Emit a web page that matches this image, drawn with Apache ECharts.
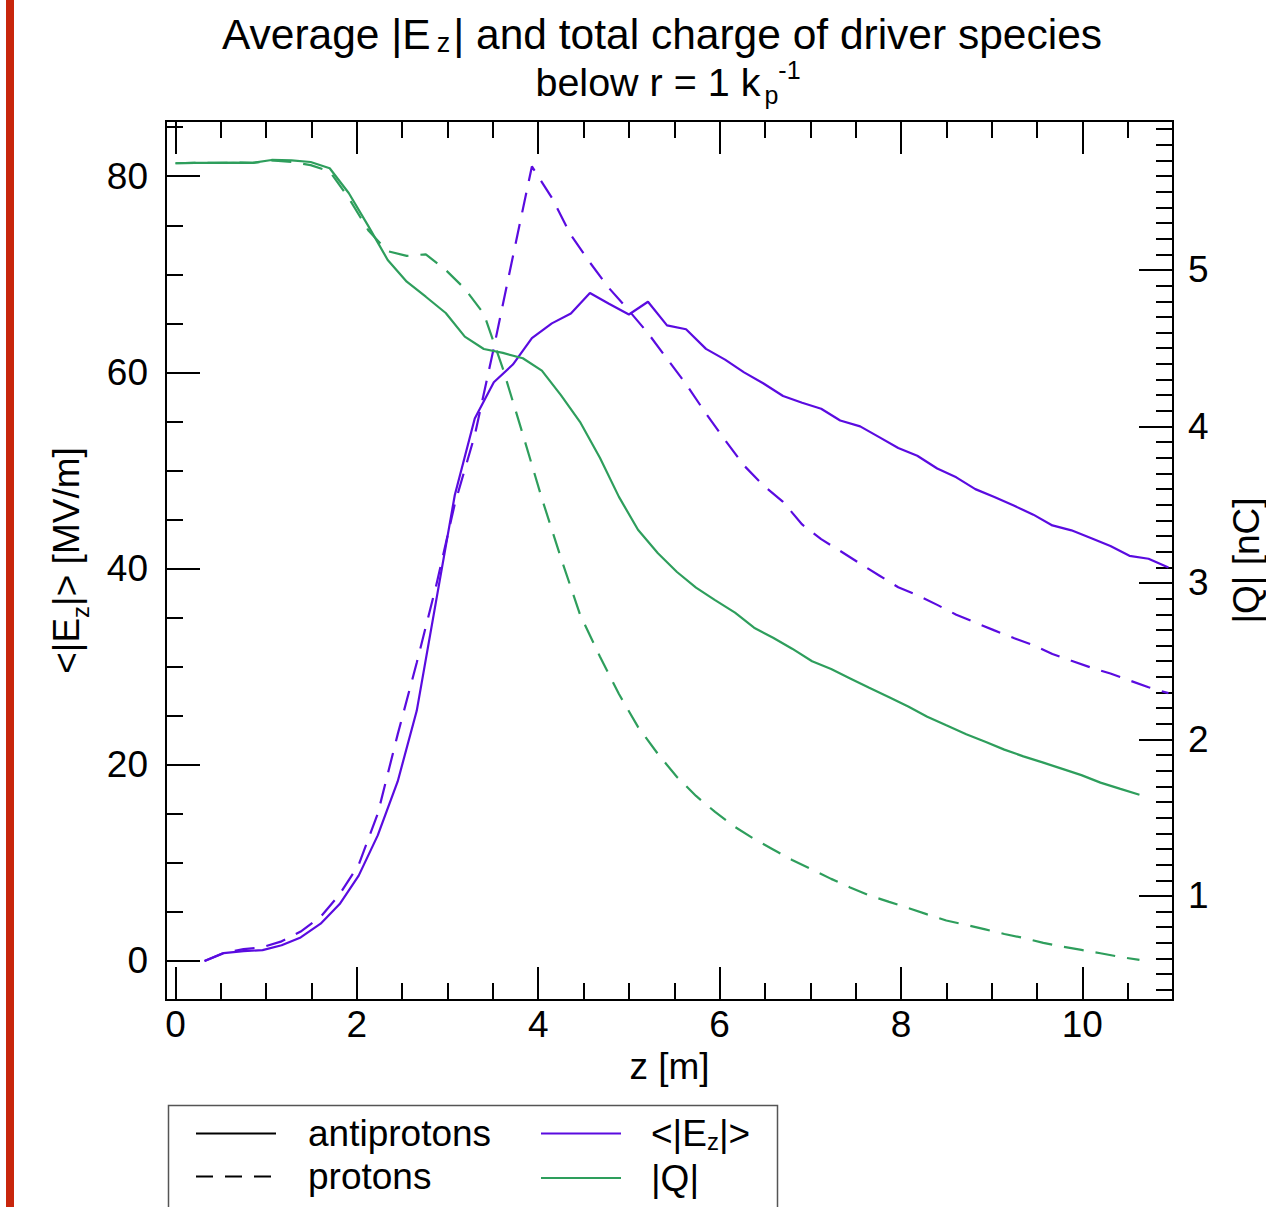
<!DOCTYPE html>
<html><head><meta charset="utf-8">
<script src="https://cdn.jsdelivr.net/npm/echarts@6/dist/echarts.min.js"></script>
<style>html,body{margin:0;padding:0;background:#fff}#c{width:1266px;height:1207px}</style>
</head><body><div id="c"></div>
<script>
// ---- data ----
const zE = [0.32,0.53,0.75,0.96,1.17,1.38,1.60,1.81,2.02,2.23,2.45,2.66,2.87,3.08,3.30,3.51,3.72,3.93,4.15,4.36,4.57,4.78,5.00,5.21,5.42,5.63,5.85,6.06,6.27,6.48,6.70,6.91,7.12,7.33,7.55,7.76,7.97,8.18,8.40,8.61,8.82,9.03,9.25,9.46,9.67,9.88,10.10,10.31,10.52,10.73,10.95];
const E_antiprotons = [0.0,0.8,1.0,1.1,1.6,2.4,3.8,5.8,8.7,12.8,18.3,25.5,36.5,47.5,55.3,59.0,60.8,63.5,65.0,66.0,68.1,67.0,65.9,67.2,64.8,64.4,62.4,61.3,60.0,58.9,57.6,56.9,56.3,55.1,54.5,53.4,52.3,51.5,50.2,49.3,48.1,47.3,46.4,45.5,44.4,43.9,43.1,42.3,41.3,41.0,40.1];
const E_protons = [0.0,0.8,1.2,1.4,2.0,3.0,4.5,6.8,9.8,15.0,23.1,30.4,38.1,46.6,53.6,62.5,71.8,81.0,77.8,74.0,71.2,68.6,66.3,64.0,61.4,58.8,55.8,53.1,50.5,48.5,46.8,44.5,43.0,41.8,40.5,39.3,38.1,37.3,36.3,35.3,34.5,33.7,32.9,32.2,31.3,30.6,29.9,29.3,28.6,27.9,27.3];
const zQ = [0.00,0.21,0.43,0.64,0.85,1.06,1.28,1.49,1.70,1.91,2.13,2.34,2.55,2.76,2.98,3.19,3.40,3.61,3.83,4.04,4.25,4.46,4.68,4.89,5.10,5.32,5.53,5.74,5.95,6.17,6.38,6.59,6.80,7.02,7.23,7.44,7.65,7.87,8.08,8.29,8.50,8.72,8.93,9.14,9.35,9.57,9.78,9.99,10.20,10.42,10.63];
const Q_antiprotons = [5.682,5.684,5.684,5.686,5.684,5.703,5.700,5.690,5.650,5.492,5.277,5.064,4.925,4.829,4.725,4.574,4.495,4.470,4.436,4.357,4.200,4.030,3.800,3.550,3.340,3.190,3.070,2.970,2.890,2.810,2.714,2.650,2.580,2.500,2.450,2.390,2.330,2.270,2.210,2.145,2.090,2.033,1.985,1.935,1.892,1.852,1.812,1.772,1.724,1.684,1.647];
const Q_protons = [5.682,5.684,5.684,5.686,5.684,5.700,5.690,5.670,5.630,5.460,5.250,5.120,5.090,5.100,5.000,4.880,4.720,4.370,3.950,3.540,3.160,2.800,2.530,2.290,2.080,1.907,1.760,1.639,1.537,1.441,1.364,1.297,1.230,1.169,1.109,1.054,1.003,0.962,0.923,0.882,0.843,0.815,0.786,0.757,0.732,0.700,0.676,0.655,0.634,0.610,0.591];

// ---- axis ticks ----
const xMajorTicks = [0,2,4,6,8,10];
const xMinorTicks = [0.5,1,1.5,2.5,3,3.5,4.5,5,5.5,6.5,7,7.5,8.5,9,9.5,10.5];
const eMajorTicks = [0,20,40,60,80];
const eMinorTicks = [5,10,15,25,30,35,45,50,55,65,70,75,85];
const qMajorTicks = [1,2,3,4,5];
const qMinorTicks = [];
for (let k = 4; k <= 59; k++) { if (k % 10 !== 0) qMinorTicks.push(k / 10); }

const X_MIN = -0.105, X_MAX = 11.0;
const E_MIN = -3.98, E_MAX = 85.63;
const Q_MIN = 0.335, Q_MAX = 5.952;

const FONT = "'Liberation Sans', Arial, Helvetica, sans-serif";
const PURPLE = '#5a0be0';
const GREEN = '#2e9e5c';
const DASH = [20, 12];

function axisBase(min, max, pos, ticks, len, withLabel, extra) {
  const a = {
    type: 'value', position: pos, min: min, max: max, scale: true,
    axisLine: { show: true, onZero: false, lineStyle: { color: '#000', width: 2 } },
    axisTick: { show: true, inside: true, length: len, customValues: ticks, lineStyle: { color: '#000', width: 2 } },
    axisLabel: withLabel ? { show: true, customValues: ticks, fontSize: 37, fontFamily: FONT, color: '#000' } : { show: false },
    splitLine: { show: false }, minorTick: { show: false }
  };
  return Object.assign(a, extra || {});
}

const nameRich = {
  a: { fontSize: 37, fontFamily: FONT, color: '#000', lineHeight: 52 },
  s: { fontSize: 24, fontFamily: FONT, color: '#000', lineHeight: 22, verticalAlign: 'bottom' }
};

const xAxes = [
  axisBase(X_MIN, X_MAX, 'bottom', xMajorTicks, 33, true, {
    name: 'z [m]', nameLocation: 'middle', nameGap: 37,
    nameTextStyle: { fontSize: 37, fontFamily: FONT, color: '#000' }
  }),
  axisBase(X_MIN, X_MAX, 'bottom', xMinorTicks, 17, false),
  axisBase(X_MIN, X_MAX, 'top', xMajorTicks, 33, false),
  axisBase(X_MIN, X_MAX, 'top', xMinorTicks, 17, false)
];
xAxes[0].axisLabel.margin = 6;

const yAxes = [
  axisBase(E_MIN, E_MAX, 'left', eMajorTicks, 34, true, {
    name: '{a|<|E}{s|z}{a||> [MV/m]}', nameLocation: 'middle', nameGap: 74, nameRotate: 90,
    nameTextStyle: { rich: nameRich }
  }),
  axisBase(E_MIN, E_MAX, 'left', eMinorTicks, 17, false),
  axisBase(Q_MIN, Q_MAX, 'right', qMajorTicks, 34, true, {
    name: '|Q| [nC]', nameLocation: 'middle', nameGap: 55, nameRotate: 90,
    nameTextStyle: { fontSize: 37, fontFamily: FONT, color: '#000' }
  }),
  axisBase(Q_MIN, Q_MAX, 'right', qMinorTicks, 17, false)
];
yAxes[0].axisLabel.margin = 18;
yAxes[2].axisLabel.margin = 15;

function pairs(xs, ys) { return xs.map((x, i) => [x, ys[i]]); }

const series = [
  { name: 'E antiprotons', type: 'line', xAxisIndex: 0, yAxisIndex: 0, data: pairs(zE, E_antiprotons),
    symbol: 'none', lineStyle: { color: PURPLE, width: 2.2 }, itemStyle: { color: PURPLE }, silent: true, z: 3 },
  { name: 'E protons', type: 'line', xAxisIndex: 0, yAxisIndex: 0, data: pairs(zE, E_protons),
    symbol: 'none', lineStyle: { color: PURPLE, width: 2.2, type: DASH }, itemStyle: { color: PURPLE }, silent: true, z: 3 },
  { name: 'Q antiprotons', type: 'line', xAxisIndex: 0, yAxisIndex: 2, data: pairs(zQ, Q_antiprotons),
    symbol: 'none', lineStyle: { color: GREEN, width: 2.2 }, itemStyle: { color: GREEN }, silent: true, z: 3 },
  { name: 'Q protons', type: 'line', xAxisIndex: 0, yAxisIndex: 2, data: pairs(zQ, Q_protons),
    symbol: 'none', lineStyle: { color: GREEN, width: 2.2, type: DASH }, itemStyle: { color: GREEN }, silent: true, z: 3 },
  // legend keys
  { name: 'antiprotons', type: 'line', data: [], symbol: 'none', lineStyle: { color: '#000', width: 2 }, itemStyle: { color: '#000' } },
  { name: 'protons', type: 'line', data: [], symbol: 'none', lineStyle: { color: '#000', width: 2, type: [17, 12] }, itemStyle: { color: '#000' } },
  { name: '<|Ez|>', type: 'line', data: [], symbol: 'none', lineStyle: { color: PURPLE, width: 2 }, itemStyle: { color: PURPLE } },
  { name: '|Q|', type: 'line', data: [], symbol: 'none', lineStyle: { color: GREEN, width: 2 }, itemStyle: { color: GREEN } }
];

const legRich = {
  a: { fontSize: 37, fontFamily: FONT, color: '#000', lineHeight: 40 },
  s: { fontSize: 24, fontFamily: FONT, color: '#000', lineHeight: 20, verticalAlign: 'bottom' }
};
function legFmt(n) { return n === '<|Ez|>' ? '{a|<|E}{s|z}{a||>}' : '{a|' + n + '}'; }

const legendCommon = {
  top: 1115, orient: 'vertical', itemWidth: 80, itemHeight: 20, itemGap: 6, padding: 0,
  selectedMode: false, formatter: legFmt, itemStyle: { opacity: 0, borderWidth: 0 }
};

const option = {
  animation: false,
  backgroundColor: '#fff',
  grid: { left: 166, right: 93, top: 121, bottom: 207, containLabel: false, outerBoundsMode: 'none' },
  xAxis: xAxes,
  yAxis: yAxes,
  series: series,
  legend: [
    Object.assign({ data: ['antiprotons', 'protons'], left: 195, textStyle: { rich: legRich, padding: [0, 0, 0, 27] } }, legendCommon),
    Object.assign({ data: ['<|Ez|>', '|Q|'], left: 540, textStyle: { rich: legRich, padding: [0, 0, 0, 25] } }, legendCommon)
  ],
  graphic: [
    { type: 'rect', left: 6, top: 0, shape: { width: 8, height: 1207 }, style: { fill: '#c8260c' }, silent: true },
    { type: 'rect', left: 166, top: 1103, shape: { width: 609, height: 120 }, style: { fill: 'none', stroke: '#555', lineWidth: 1.5 }, silent: true },
    { type: 'text', x: 662, y: 12, silent: true,
      style: { text: '{a|Average |E}{s|z}{a|| and total charge of driver species}', align: 'center', verticalAlign: 'top',
        rich: { a: { fontSize: 42.5, fontFamily: FONT, fill: '#000', lineHeight: 44 },
                s: { fontSize: 27, fontFamily: FONT, fill: '#000', lineHeight: 18, verticalAlign: 'bottom', padding: [0, 3, 0, 6] } } } },
    { type: 'text', x: 668, y: 57, silent: true,
      style: { text: '{a|below r = 1 k}{s|p}{p|-1}', align: 'center', verticalAlign: 'top',
        rich: { a: { fontSize: 39.5, fontFamily: FONT, fill: '#000', lineHeight: 50 },
                s: { fontSize: 25, fontFamily: FONT, fill: '#000', lineHeight: 22, verticalAlign: 'bottom', padding: [0, 0, 0, 4] } ,
                p: { fontSize: 25, fontFamily: FONT, fill: '#000', lineHeight: 22, verticalAlign: 'top' } } } }
  ]
};

const chart = echarts.init(document.getElementById('c'), null, { renderer: 'svg', width: 1266, height: 1207 });
chart.setOption(option);
</script>
</body></html>
